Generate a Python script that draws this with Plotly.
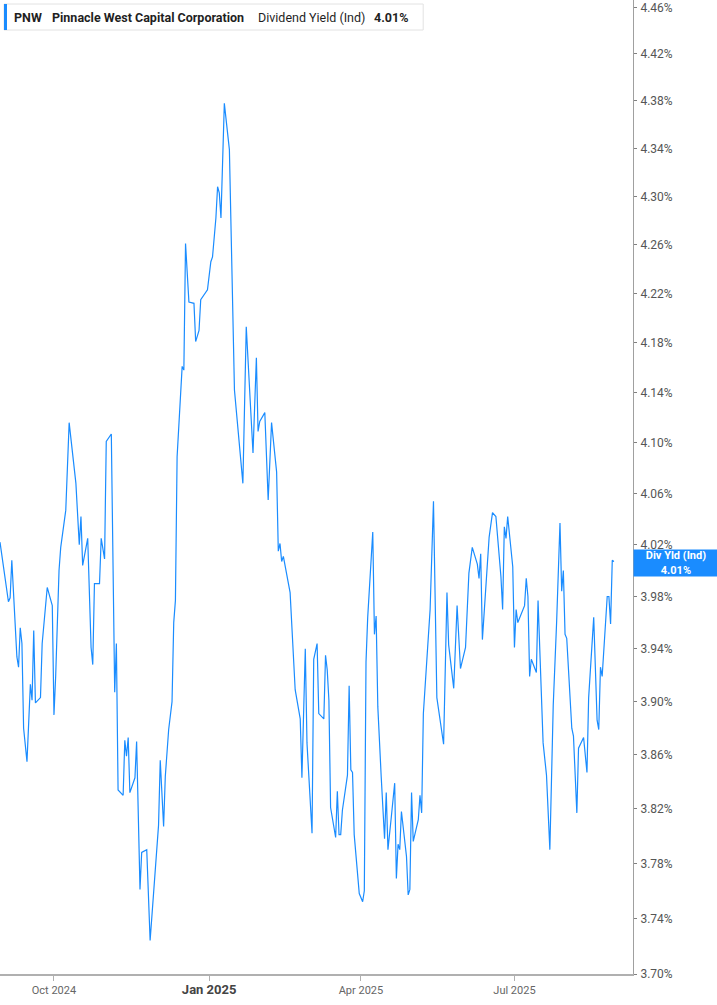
import numpy
import plotly.graph_objects as go

# dividend yield (indicated), percent
dates = [
    "2024-08-30", "2024-09-04", "2024-09-05", "2024-09-06", "2024-09-09", "2024-09-10", "2024-09-11",
    "2024-09-12", "2024-09-13", "2024-09-15", "2024-09-17", "2024-09-18", "2024-09-19", "2024-09-20",
    "2024-09-23", "2024-09-24", "2024-09-27", "2024-09-30", "2024-10-01", "2024-10-02", "2024-10-04",
    "2024-10-05", "2024-10-08", "2024-10-10", "2024-10-14", "2024-10-16", "2024-10-17", "2024-10-18",
    "2024-10-21", "2024-10-23", "2024-10-24", "2024-10-25", "2024-10-28", "2024-10-29", "2024-10-31",
    "2024-11-01", "2024-11-04", "2024-11-06", "2024-11-07", "2024-11-08", "2024-11-11", "2024-11-12",
    "2024-11-13", "2024-11-14", "2024-11-15", "2024-11-18", "2024-11-19", "2024-11-21", "2024-11-22",
    "2024-11-25", "2024-11-27", "2024-12-02", "2024-12-03", "2024-12-05", "2024-12-06", "2024-12-08",
    "2024-12-10", "2024-12-11", "2024-12-12", "2024-12-13", "2024-12-16", "2024-12-17", "2024-12-18",
    "2024-12-20", "2024-12-23", "2024-12-24", "2024-12-26", "2024-12-27", "2024-12-31", "2025-01-02",
    "2025-01-03", "2025-01-05", "2025-01-06", "2025-01-07", "2025-01-08", "2025-01-10", "2025-01-13",
    "2025-01-16", "2025-01-21", "2025-01-23", "2025-01-27", "2025-01-29", "2025-01-30", "2025-01-31",
    "2025-02-03", "2025-02-05", "2025-02-07", "2025-02-10", "2025-02-11", "2025-02-12", "2025-02-13",
    "2025-02-14", "2025-02-18", "2025-02-21", "2025-02-24", "2025-02-25", "2025-02-27", "2025-02-28",
    "2025-03-03", "2025-03-04", "2025-03-06", "2025-03-07", "2025-03-10", "2025-03-11", "2025-03-12",
    "2025-03-13", "2025-03-14", "2025-03-17", "2025-03-18", "2025-03-19", "2025-03-20", "2025-03-21",
    "2025-03-24", "2025-03-25", "2025-03-26", "2025-03-27", "2025-03-28", "2025-03-31", "2025-04-02",
    "2025-04-03", "2025-04-04", "2025-04-05", "2025-04-08", "2025-04-09", "2025-04-10", "2025-04-11",
    "2025-04-13", "2025-04-15", "2025-04-16", "2025-04-17", "2025-04-19", "2025-04-21", "2025-04-22",
    "2025-04-23", "2025-04-24", "2025-04-25", "2025-04-28", "2025-04-29", "2025-04-30", "2025-05-01",
    "2025-05-02", "2025-05-05", "2025-05-06", "2025-05-07", "2025-05-08", "2025-05-12", "2025-05-14",
    "2025-05-16", "2025-05-20", "2025-05-22", "2025-05-23", "2025-05-26", "2025-05-28", "2025-05-30",
    "2025-06-02", "2025-06-04", "2025-06-06", "2025-06-09", "2025-06-10", "2025-06-11", "2025-06-12",
    "2025-06-14", "2025-06-16", "2025-06-18", "2025-06-20", "2025-06-23", "2025-06-24", "2025-06-25",
    "2025-06-26", "2025-06-27", "2025-06-30", "2025-07-01", "2025-07-02", "2025-07-03", "2025-07-07",
    "2025-07-08", "2025-07-09", "2025-07-10", "2025-07-11", "2025-07-14", "2025-07-15", "2025-07-18",
    "2025-07-20", "2025-07-22", "2025-07-24", "2025-07-26", "2025-07-28", "2025-07-29", "2025-07-30",
    "2025-07-31", "2025-08-01", "2025-08-04", "2025-08-05", "2025-08-07", "2025-08-08", "2025-08-11",
    "2025-08-13", "2025-08-14", "2025-08-17", "2025-08-19", "2025-08-20", "2025-08-21", "2025-08-22",
    "2025-08-25", "2025-08-26", "2025-08-27", "2025-08-28", "2025-08-29",
]
div_yield = [
    4.022, 3.976, 3.979, 4.008, 3.934, 3.926, 3.956,
    3.944, 3.880, 3.855, 3.913, 3.901, 3.954, 3.899,
    3.903, 3.944, 3.987, 3.973, 3.890, 3.919, 4.000,
    4.018, 4.047, 4.116, 4.068, 4.020, 4.042, 4.004,
    4.025, 3.941, 3.928, 3.990, 3.990, 4.025, 4.009,
    4.101, 4.107, 3.907, 3.944, 3.834, 3.830, 3.871,
    3.859, 3.873, 3.832, 3.843, 3.870, 3.761, 3.788,
    3.790, 3.724, 3.808, 3.856, 3.807, 3.844, 3.879,
    3.900, 3.960, 3.977, 4.089, 4.161, 4.158, 4.261,
    4.213, 4.212, 4.181, 4.190, 4.215, 4.223, 4.246,
    4.250, 4.282, 4.308, 4.303, 4.282, 4.378, 4.339,
    4.142, 4.068, 4.193, 4.092, 4.168, 4.109, 4.117,
    4.124, 4.055, 4.116, 4.077, 4.015, 4.021, 4.007,
    4.011, 3.983, 3.909, 3.887, 3.843, 3.940, 3.869,
    3.802, 3.932, 3.944, 3.891, 3.887, 3.935, 3.924,
    3.901, 3.821, 3.799, 3.833, 3.801, 3.801, 3.819,
    3.845, 3.912, 3.849, 3.847, 3.801, 3.758, 3.752,
    3.760, 3.930, 3.964, 4.030, 3.951, 3.965, 3.896,
    3.844, 3.798, 3.832, 3.790, 3.814, 3.839, 3.769,
    3.794, 3.790, 3.818, 3.785, 3.757, 3.761, 3.832,
    3.796, 3.812, 3.830, 3.817, 3.891, 3.970, 4.054,
    3.903, 3.868, 3.983, 3.943, 3.910, 3.973, 3.925,
    3.941, 3.998, 4.018, 4.005, 3.994, 4.013, 3.947,
    3.990, 4.026, 4.045, 4.042, 3.995, 3.970, 4.034,
    4.025, 4.042, 4.003, 3.941, 3.970, 3.960, 3.973,
    3.994, 3.980, 3.919, 3.932, 3.922, 3.977, 3.869,
    3.845, 3.790, 3.897, 3.960, 4.037, 3.984, 4.000,
    3.951, 3.948, 3.880, 3.874, 3.817, 3.865, 3.873,
    3.847, 3.903, 3.964, 3.886, 3.879, 3.926, 3.919,
    3.980, 3.980, 3.959, 4.008, 4.007,
]

y_tick_values = [3.70, 3.74, 3.78, 3.82, 3.86, 3.90, 3.94, 3.98, 4.02, 4.06,
                 4.10, 4.14, 4.18, 4.22, 4.26, 4.30, 4.34, 4.38, 4.42, 4.46]
y_tick_labels = ["3.70%", "3.74%", "3.78%", "3.82%", "3.86%", "3.90%", "3.94%", "3.98%", "4.02%", "4.06%",
                 "4.10%", "4.14%", "4.18%", "4.22%", "4.26%", "4.30%", "4.34%", "4.38%", "4.42%", "4.46%"]
x_tick_values = ["2024-10-01", "2025-01-01", "2025-04-01", "2025-07-01"]
x_tick_labels = ["Oct 2024", "<b><span style='font-size:13px;color:#444'>Jan 2025</span></b>", "Apr 2025", "Jul 2025"]

ticker = "PNW"
company = "Pinnacle West Capital Corporation"
metric = "Dividend Yield (Ind)"
last_label = "4.01%"

BLUE = "#1a8cff"
FONT = "Roboto"

figure = go.Figure()
figure.add_trace(go.Scatter(
    x=dates,
    y=div_yield,
    mode="lines",
    line=dict(color=BLUE, width=1.2),
    hoverinfo="skip",
    showlegend=False,
))

figure.update_layout(
    width=717,
    height=1005,
    margin=dict(l=0, r=84, t=0, b=31),
    paper_bgcolor="white",
    plot_bgcolor="white",
    font=dict(family=FONT, size=11, color="#666"),
    xaxis=dict(
        type="date",
        range=["2024-08-30", "2025-09-09 07:00"],
        tickvals=x_tick_values,
        ticktext=x_tick_labels,
        showgrid=False,
        zeroline=False,
        showline=True,
        linecolor="#b0b0b0",
        linewidth=1.5,
        ticks="outside",
        ticklen=5,
        tickcolor="#b0b0b0",
        tickfont=dict(family=FONT, size=11, color="#666"),
    ),
    yaxis=dict(
        type="log",
        side="right",
        range=[numpy.log10(3.70), numpy.log10(4.4663)],
        tickvals=y_tick_values,
        ticktext=y_tick_labels,
        showgrid=False,
        zeroline=False,
        showline=True,
        linecolor="#a0a0a0",
        linewidth=1,
        ticks="outside",
        ticklen=3,
        tickcolor="#808080",
        ticklabelstandoff=1,
        tickfont=dict(family=FONT, size=12, color="#555"),
    ),
)

# header box in the top left corner
box_top, box_bottom = 1 - 4 / 974, 1 - 30 / 974
figure.add_shape(type="rect", xref="paper", yref="paper", x0=4 / 632.7, x1=423 / 632.7, y0=box_bottom, y1=box_top,
                 line=dict(color="#e2e2e2", width=1), fillcolor="white", layer="above")
figure.add_shape(type="rect", xref="paper", yref="paper", x0=4 / 632.7, x1=7 / 632.7, y0=box_bottom, y1=box_top,
                 line=dict(width=0), fillcolor=BLUE, layer="above")

header_parts = [(13, "<b>" + ticker + "</b>"), (51, "<b>" + company + "</b>"),
                (256.5, metric), (372.5, "<b>" + last_label + "</b>")]
for x_px, text in header_parts:
    figure.add_annotation(
        xref="paper", yref="paper", x=x_px / 632.7, y=1 - 17 / 974,
        xanchor="left", yanchor="middle", showarrow=False, borderpad=0,
        text=text, font=dict(family=FONT, size=12.5, color="#1f1f1f"),
    )

# last value tag on the price axis, nudged a little so it clears the 4.02% label
figure.add_annotation(
    xref="paper", yref="y", x=1, y=numpy.log10(div_yield[-1]), yshift=-1,
    xanchor="left", yanchor="middle", showarrow=False,
    text="<b>Div Yld (Ind)</b><br><b>" + last_label + "</b>",
    font=dict(family=FONT, size=11, color="white"),
    bgcolor=BLUE, borderpad=1, width=82, height=24, align="center",
)

# the page body keeps its default 8px margin otherwise
figure.write_html("out.html", config={"displayModeBar": False},
                  post_script="document.body.style.margin = '0px';")
